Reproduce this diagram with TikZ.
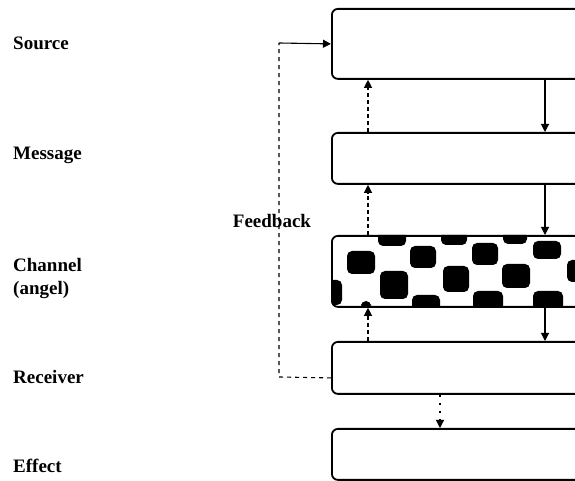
\documentclass[tikz,border=0pt]{standalone}
\usepackage{fontspec}
\setmainfont{Liberation Serif}
\usetikzlibrary{arrows.meta}
\begin{document}
\begin{tikzpicture}[x=1pt,y=1pt,
  box/.style={draw, line width=1.8pt, rounded corners=6pt, inner sep=0pt, minimum width=259pt, anchor=north west},
  lab/.style={anchor=west, font=\bfseries\fontsize{19}{23}\selectfont, inner sep=0pt, align=left},
  solidarr/.style={line width=1.1pt, -{Triangle[width=8pt,length=8pt]}},
  dasharr/.style={line width=1.1pt, dash pattern=on 4pt off 3pt, -{Triangle[width=8pt,length=8pt]}},
  dotarr/.style={line width=1.1pt, dash pattern=on 2pt off 6pt, -{Triangle[width=8pt,length=8pt]}},
  fbline/.style={line width=1.1pt, dash pattern=on 4pt off 4pt},
  blob/.style={fill=black, rounded corners=5pt}]
\useasboundingbox (0,0) rectangle (575,481);
\clip (0,0) rectangle (575,481);
% blobs of the channel box
\begin{scope}
  \clip[rounded corners=6pt] (331,175) rectangle (590,246);
  \fill[blob] (347,207) rectangle (375,230);
  \fill[blob] (410,213) rectangle (436,235);
  \fill[blob] (472,216) rectangle (498,238);
  \fill[blob] (533,222) rectangle (561,240);
  \fill[blob] (380,182) rectangle (408,210);
  \fill[blob] (443,189) rectangle (469,215);
  \fill[blob] (502,193) rectangle (530,217);
  \fill[blob] (567,199) rectangle (593,221);
  \fill[blob] (378,235) rectangle (406,250);
  \fill[blob] (441,236) rectangle (467,250);
  \fill[blob] (503,237) rectangle (527,250);
  \fill[blob] (412,170) rectangle (440,186);
  \fill[blob] (473,170) rectangle (503,190);
  \fill[blob] (533,170) rectangle (563,190);
  \fill[blob] (325,176) rectangle (342,201);
  \fill[blob] (361,172) rectangle (371,180);
\end{scope}
% boxes
\node[box, minimum height=70pt] (src) at (331,473) {};
\node[box, minimum height=51pt] (msg) at (331,349) {};
\node[box, minimum height=71pt] (chn) at (331,246) {};
\node[box, minimum height=52pt] (rcv) at (331,140) {};
\node[box, minimum height=51pt] (eff) at (331,53) {};
% labels
\node[lab] (lsrc) at (13,438) {Source};
\node[lab] (lmsg) at (13,326) {Message};
\node[lab] (lchn) at (13,202) {Channel\\(angel)};
\node[lab] (lrcv) at (13,104) {Receiver};
\node[lab] (leff) at (13,15) {Effect};
% connectors
\coordinate (xa) at (545,0);
\coordinate (xb) at (368,0);
\coordinate (xc) at (440,0);
\draw[solidarr] (src.south -| xa) -- (msg.north -| xa);
\draw[solidarr] (msg.south -| xa) -- (chn.north -| xa);
\draw[solidarr] (chn.south -| xa) -- (rcv.north -| xa);
\draw[dasharr] (msg.north -| xb) -- (src.south -| xb);
\draw[dasharr] (chn.north -| xb) -- (msg.south -| xb);
\draw[dasharr] (rcv.north -| xb) -- (chn.south -| xb);
\draw[dotarr] (rcv.south -| xc) -- (eff.north -| xc);
% feedback loop
\coordinate (fbb) at (279,104);
\coordinate (fbt) at (279,438);
\draw[fbline] ([yshift=-10pt]rcv.west) -- (fbb) -- (fbt);
\draw[solidarr] (fbt) -- (src.west);
\node[font=\bfseries\fontsize{19}{23}\selectfont, inner sep=0pt] (fbl) at (272,260) {Feedback};
\end{tikzpicture}
\end{document}
